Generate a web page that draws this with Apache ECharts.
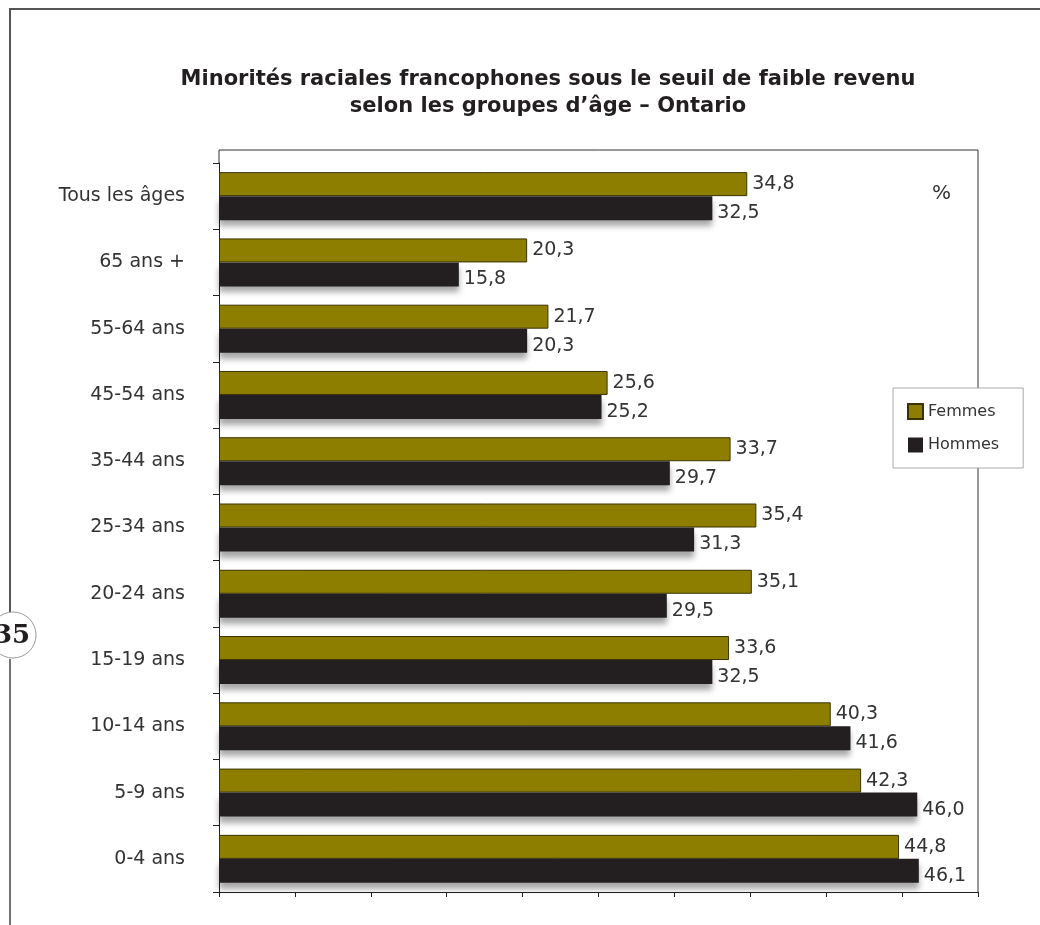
<!DOCTYPE html>
<html>
<head>
<meta charset="utf-8">
<script src="https://cdn.jsdelivr.net/npm/echarts@6/dist/echarts.min.js"></script>
<style>
  html, body { margin: 0; padding: 0; background: #fff; }
  #main { width: 1040px; height: 925px; }
</style>
</head>
<body>
<div id="main"></div>
<script>
// categories, top to bottom
const ageGroups = ['Tous les âges', '65 ans +', '55-64 ans', '45-54 ans', '35-44 ans',
  '25-34 ans', '20-24 ans', '15-19 ans', '10-14 ans', '5-9 ans', '0-4 ans'];
const femmes = [34.8, 20.3, 21.7, 25.6, 33.7, 35.4, 35.1, 33.6, 40.3, 42.3, 44.8];
const hommes = [32.5, 15.8, 20.3, 25.2, 29.7, 31.3, 29.5, 32.5, 41.6, 46.0, 46.1];
const seriesNames = ['Femmes', 'Hommes'];

const textFont = 'DejaVu Sans';
const fmt = p => p.value.toFixed(1).replace('.', ',');

const chart = echarts.init(document.getElementById('main'));
const option = {
  backgroundColor: '#fff',
  animation: false,
  title: {
    text: 'Minorités raciales francophones sous le seuil de faible revenu\nselon les groupes d\u2019âge \u2013 Ontario',
    left: 543,
    textAlign: 'center',
    top: 61,
    textStyle: {
      fontFamily: textFont, fontWeight: 'bold', fontSize: 21,
      color: '#231f20', lineHeight: 27
    }
  },
  legend: {
    data: seriesNames,
    orient: 'vertical',
    left: 893,
    top: 388,
    padding: [15, 24, 15, 14],
    itemGap: 17,
    itemWidth: 15,
    itemHeight: 15,
    icon: 'rect',
    backgroundColor: '#fff',
    borderColor: '#aaa',
    borderWidth: 1,
    textStyle: { fontFamily: textFont, fontSize: 16, color: '#333' }
  },
  grid: { left: 219, right: 62, top: 163, bottom: 33, containLabel: false },
  xAxis: {
    type: 'value',
    min: 0, max: 50, interval: 5,
    axisLine: { show: true, lineStyle: { color: '#231f20', width: 1 } },
    axisTick: { show: true, length: 5, lineStyle: { color: '#231f20' } },
    axisLabel: { show: false },
    splitLine: { show: false }
  },
  yAxis: {
    type: 'category',
    data: ageGroups,
    inverse: true,
    axisLine: { show: true, lineStyle: { color: '#231f20', width: 1 } },
    axisTick: { show: true, length: 6, lineStyle: { color: '#231f20' } },
    axisLabel: { fontFamily: textFont, fontSize: 19, color: '#333', margin: 34 }
  },
  series: [
    {
      name: seriesNames[0],
      type: 'bar',
      data: femmes,
      barWidth: 24,
      barGap: '0%',
      itemStyle: { color: '#8d7e00', borderColor: '#3a3300', borderWidth: 1 },
      label: {
        show: true, position: 'right', distance: 5, formatter: fmt,
        fontFamily: textFont, fontSize: 19, color: '#333'
      }
    },
    {
      name: seriesNames[1],
      type: 'bar',
      data: hommes,
      barWidth: 24,
      barGap: '0%',
      itemStyle: {
        color: '#231f20',
        shadowColor: 'rgba(0,0,0,0.35)', shadowBlur: 6, shadowOffsetY: 6
      },
      label: {
        show: true, position: 'right', distance: 5, offset: [0, 5], formatter: fmt,
        fontFamily: textFont, fontSize: 19, color: '#333'
      }
    }
  ],
  graphic: [
    // page frame
    { type: 'polyline', shape: { points: [[10, 925], [10, 659]] }, style: { stroke: '#444', lineWidth: 1.5 } },
    { type: 'polyline', shape: { points: [[10, 612], [10, 9], [1040, 9]] }, style: { stroke: '#555', lineWidth: 2, fill: null } },
    // page number
    { type: 'circle', shape: { cx: 13, cy: 635, r: 23 }, style: { fill: '#fff', stroke: '#999', lineWidth: 1 } },
    { type: 'text', x: 12, y: 636, style: { text: '35', fontFamily: 'DejaVu Serif', fontWeight: 'bold', fontSize: 26, fill: '#231f20', align: 'center', verticalAlign: 'middle' } },
    // plot area frame (top and right)
    { type: 'polyline', shape: { points: [[219, 163], [219, 150], [978, 150], [978, 892]] }, style: { stroke: '#333', lineWidth: 1, fill: null } },
    // unit
    { type: 'text', x: 932, y: 184, style: { text: '%', fontFamily: textFont, fontSize: 20, fill: '#333' } }
  ]
};
chart.setOption(option);
</script>
</body>
</html>
